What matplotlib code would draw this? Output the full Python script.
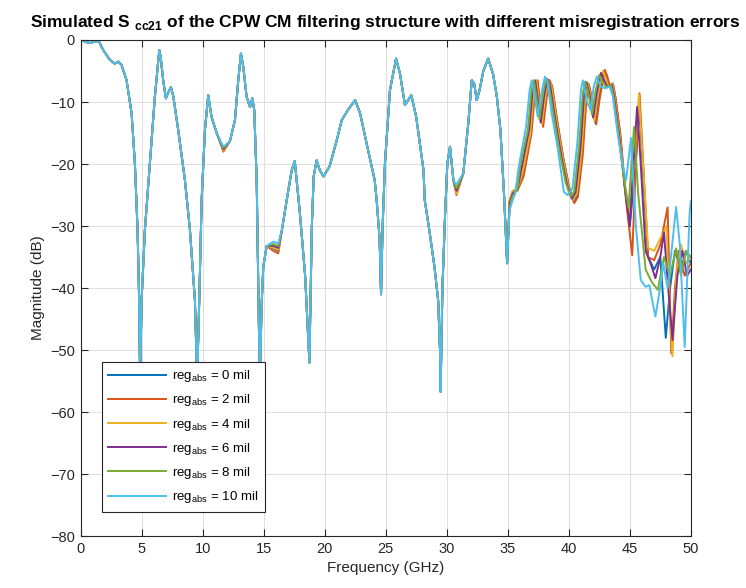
import matplotlib
matplotlib.use("Agg")
import matplotlib.pyplot as plt
import numpy as np

plt.rcParams['font.family'] = ['Liberation Sans', 'DejaVu Sans']
plt.rcParams['mathtext.fontset'] = 'custom'
plt.rcParams['mathtext.rm'] = 'Liberation Sans'
plt.rcParams['mathtext.bf'] = 'Liberation Sans:bold'

# shared part of the response (0 - 34.4 GHz), all curves nearly on top of each other
freq_low = [0.0, 0.4, 0.8, 1.2, 1.5, 1.85, 2.4, 2.8, 3.1, 3.35, 3.77, 4.18, 4.45, 4.67, 4.8, 4.88,
            5.0, 5.27, 5.68, 6.09, 6.45, 6.56, 6.77, 6.99, 7.15, 7.4, 7.6, 8.0, 8.55, 8.96, 9.37,
            9.55, 9.75, 9.92, 10.19, 10.46, 10.73, 11.15, 11.7, 12.24, 12.65, 12.92, 13.14, 13.33,
            13.6, 13.88, 14.07, 14.23, 14.43, 14.56, 14.68, 14.85, 14.97, 15.25, 15.8, 16.2, 16.5,
            17.0, 17.3, 17.55, 17.97, 18.4, 18.75, 18.95, 19.1, 19.34, 19.6, 19.9, 20.4, 21.0, 21.4,
            21.9, 22.5, 22.9, 23.44, 24.1, 24.26, 24.5, 24.62, 24.75, 24.94, 25.35, 25.85, 26.17,
            26.58, 27.1, 27.5, 28.1, 28.2, 28.6, 29.0, 29.3, 29.45, 29.5, 29.65, 29.86, 30.05,
            30.27, 30.55, 30.8, 31.36, 31.77, 32.05, 32.25, 32.46, 32.7, 33.0, 33.4, 33.8, 34.1, 34.4]
mag_low = [0.0, -0.3, -0.5, -0.2, -0.2, -1.6, -3.2, -3.8, -3.5, -4.0, -6.5, -11.8, -19.9, -30.6, -42, -55,
           -42, -30.6, -19.9, -9.1, -1.6, -2.7, -6.5, -9.4, -8.6, -7.6, -9.1, -14.5, -22.6, -30.6, -42,
           -55, -40, -25.8, -14.5, -8.9, -12.4, -15.0, -17.4, -16.3, -12.9, -6.5, -2.2, -4.3,
           -9.1, -10.8, -9.4, -11.3, -22.6, -39, -55, -42, -36.6, -33.2, -33.2, -33.4, -30.6,
           -24.5, -21.0, -19.5, -27.9, -38, -52, -30, -22, -19.4, -21.0, -22.0, -20.4, -16.1, -12.9,
           -11.3, -9.7, -11.8, -16.7, -22.6, -25.8, -32, -41, -30, -19.9, -8.1, -3.0, -5.4,
           -10.5, -8.9, -12.4, -21.0, -25.8, -31, -36.6, -42, -50, -56.7, -40, -28.5, -20,
           -17.2, -22.6, -24.5, -21.5, -13.4, -6.5, -7.0, -9.7, -8.0, -5.0, -3.0, -5.5, -9.0, -14.5]

# small differences between the curves in the shallow troughs
trough_freq = [11.7, 15.8, 16.2, 30.8]
trough_0mil = [-17.6, -33.6, -34.0, -24.5]
trough_2mil = [-18.0, -34.0, -34.4, -25.0]
trough_4mil = [-17.8, -33.5, -33.8, -24.8]
trough_6mil = [-17.6, -33.2, -33.5, -24.3]
trough_8mil = [-17.4, -32.9, -33.2, -23.9]
trough_10mil = [-17.2, -32.5, -32.8, -23.3]

# upper band (34.4 - 50 GHz), where the curves separate
high_0mil = [(34.7, -25), (34.95, -36), (35.15, -26), (35.4, -24.5), (35.8, -24), (36.3, -21.5),
             (36.9, -15), (37.2, -8), (37.4, -6.6), (37.6, -9.5), (37.85, -13.5), (38.15, -9),
             (38.4, -6.5), (38.6, -7.4), (39.0, -12.5), (39.5, -18.5), (40.0, -23.5), (40.4, -26),
             (40.7, -25), (41.1, -18), (41.4, -9), (41.6, -7), (41.9, -9.5), (42.2, -13.5), (42.5, -9),
             (42.9, -5), (43.1, -6), (43.3, -7.5), (43.6, -7), (43.8, -9), (44.2, -15), (44.6, -24),
             (45.0, -30), (45.4, -22), (45.8, -11), (46.1, -22), (46.5, -35), (47.0, -37), (47.5, -35),
             (47.95, -48), (48.3, -40), (48.7, -34), (49.2, -37), (49.6, -34), (50.0, -36)]
high_2mil = [(34.7, -25), (34.95, -36), (35.15, -26), (35.4, -24.5), (35.8, -24.3), (36.3, -22),
             (36.95, -15), (37.25, -8), (37.45, -6.5), (37.65, -9.8), (37.9, -14), (38.2, -9.2),
             (38.45, -6.5), (38.65, -7.5), (39.05, -13), (39.55, -19), (40.05, -24), (40.45, -26.3),
             (40.75, -25.3), (41.15, -18.5), (41.45, -9.5), (41.65, -7.2), (41.95, -9.8), (42.25, -13.6),
             (42.55, -9.3), (42.95, -4.8), (43.15, -5.8), (43.35, -7.3), (43.65, -7.3), (43.85, -9.5),
             (44.25, -15.5), (44.7, -26), (45.2, -34.7), (45.5, -20), (45.8, -8.6), (46.1, -20),
             (46.5, -35), (47.0, -35.5), (47.5, -33), (48.1, -27), (48.4, -50.5), (48.7, -40),
             (49.0, -34), (49.5, -38), (50.0, -36)]
high_4mil = [(34.7, -25), (34.95, -36), (35.15, -26), (35.4, -24.3), (35.8, -24), (36.2, -21.5),
             (36.85, -15), (37.15, -8), (37.35, -6.5), (37.55, -9.6), (37.8, -13.6), (38.1, -9),
             (38.35, -6.4), (38.55, -7.1), (38.95, -12.5), (39.45, -18.5), (39.95, -23.5), (40.35, -25.8),
             (40.65, -24.8), (41.05, -18), (41.35, -9), (41.55, -7), (41.85, -9.4), (42.1, -13),
             (42.4, -8.8), (42.8, -5), (43.0, -6), (43.25, -7.5), (43.55, -7), (43.75, -9), (44.15, -15),
             (44.6, -24), (45.0, -28), (45.4, -18), (45.75, -8.8), (46.05, -19), (46.5, -33.5),
             (47.0, -34), (47.5, -32), (48.0, -30), (48.3, -45), (48.5, -51), (48.8, -38), (49.2, -33),
             (49.6, -36), (50.0, -35)]
high_6mil = [(34.7, -25), (34.95, -36), (35.15, -26.5), (35.4, -24.8), (35.8, -24), (36.1, -21),
             (36.75, -14.5), (37.05, -8), (37.25, -6.5), (37.45, -9.4), (37.7, -13.3), (38.0, -8.8),
             (38.25, -6.3), (38.45, -7), (38.85, -12.3), (39.35, -18.3), (39.85, -23.3), (40.25, -25.6),
             (40.55, -24.6), (40.95, -17.5), (41.25, -8.8), (41.45, -6.8), (41.75, -9.2), (42.0, -12.5),
             (42.3, -8.5), (42.65, -5.3), (42.85, -6.3), (43.15, -7.5), (43.5, -7.2), (43.7, -9),
             (44.1, -15), (44.55, -23), (45.0, -30), (45.3, -20), (45.6, -10.8), (45.9, -20), (46.3, -34),
             (46.7, -36), (47.1, -38.4), (47.5, -35), (47.8, -31), (48.15, -40), (48.5, -48.4),
             (48.9, -38), (49.3, -34), (49.7, -38), (50.0, -37)]
high_8mil = [(34.7, -25), (34.95, -36), (35.15, -27), (35.4, -25.2), (35.8, -24), (36.0, -20.5),
             (36.65, -14.5), (36.95, -8), (37.15, -6.5), (37.35, -9.2), (37.6, -12.8), (37.9, -8.6),
             (38.15, -6.2), (38.35, -6.9), (38.75, -12), (39.25, -18), (39.75, -23), (40.15, -25.3),
             (40.45, -24.4), (40.85, -17), (41.15, -8.5), (41.35, -6.7), (41.65, -9), (41.9, -12),
             (42.2, -8.2), (42.5, -5.6), (42.7, -6.6), (43.05, -7.6), (43.45, -7.3), (43.65, -9),
             (44.05, -15), (44.5, -22), (44.9, -27), (45.35, -14), (45.7, -25), (46.3, -37), (46.8, -39),
             (47.3, -40.3), (47.8, -35), (48.3, -38), (48.8, -33.6), (49.2, -38), (49.6, -34), (50.0, -35)]
high_10mil = [(34.7, -25), (34.95, -36), (35.15, -27.5), (35.4, -25.8), (35.6, -24.8), (35.9, -20.5),
              (36.5, -14), (36.8, -8), (36.97, -6.5), (37.2, -9), (37.45, -12.3), (37.8, -8.2),
              (38.05, -5.9), (38.25, -6.8), (38.6, -11.8), (39.1, -17.5), (39.6, -24.5), (39.9, -25),
              (40.3, -24), (40.7, -16.6), (41.0, -8), (41.15, -6.5), (41.5, -10), (41.8, -11.3),
              (42.05, -7.5), (42.3, -5.9), (42.6, -7.5), (43.0, -7.8), (43.35, -7.5), (43.6, -9),
              (44.0, -15), (44.4, -20), (44.7, -22.6), (45.1, -15.8), (45.5, -30), (45.9, -38.7),
              (46.3, -39.8), (46.6, -39.5), (47.1, -44.6), (47.5, -39.8), (47.75, -36), (48.1, -40),
              (48.8, -26.9), (49.1, -33), (49.5, -49.5), (49.9, -28), (50.0, -26)]

labels = ['0 mil', '2 mil', '4 mil', '6 mil', '8 mil', '10 mil']
troughs = [trough_0mil, trough_2mil, trough_4mil, trough_6mil, trough_8mil, trough_10mil]
highs = [high_0mil, high_2mil, high_4mil, high_6mil, high_8mil, high_10mil]
colors = ['#0072BD', '#D95319', '#EDB120', '#7E2F8E', '#77AC30', '#4DBEEE']


def build_curve(trough, high):
    mag = list(mag_low)
    for f, m in zip(trough_freq, trough):
        mag[freq_low.index(f)] = m
    f_all = freq_low + [p[0] for p in high]
    m_all = mag + [p[1] for p in high]
    return np.array(f_all), np.array(m_all)


fig = plt.figure(figsize=(7.46, 5.88), dpi=100)
ax = fig.add_axes([0.108, 0.088, 0.818, 0.844])

for lab, tr, hi, col in zip(labels, troughs, highs, colors):
    f, m = build_curve(tr, hi)
    ax.plot(f, m, color=col, lw=1.4, label=r'reg$_{\rm abs}$ = ' + lab)

ax.set_xlim(0, 50)
ax.set_ylim(-80, 0)
ax.set_xticks(np.arange(0, 51, 5))
ax.set_yticks(np.arange(-80, 1, 10))
ax.grid(True, color='#dedede', lw=0.7)
ax.tick_params(direction='in', top=True, right=True, length=5, labelsize=10.5,
               colors='#262626', pad=4)
for s in ax.spines.values():
    s.set_color('#262626')
    s.set_linewidth(0.8)

ax.set_xlabel('Frequency (GHz)', fontsize=11, color='#262626')
ax.set_ylabel('Magnitude (dB)', fontsize=11, color='#262626')
ax.set_title(r'Simulated S $_{\bf cc21}$ of the CPW CM filtering structure with different misregistration errors',
             fontsize=12.5, fontweight='bold', pad=9)

leg = ax.legend(loc='lower left', bbox_to_anchor=(0.024, 0.036), fontsize=9.5, handlelength=4.4,
                labelspacing=0.62, fancybox=False, framealpha=1, edgecolor='#262626',
                borderpad=0.5, handletextpad=0.4)
leg.get_frame().set_linewidth(0.8)

plt.savefig('out.png', dpi=100)
plt.close()
